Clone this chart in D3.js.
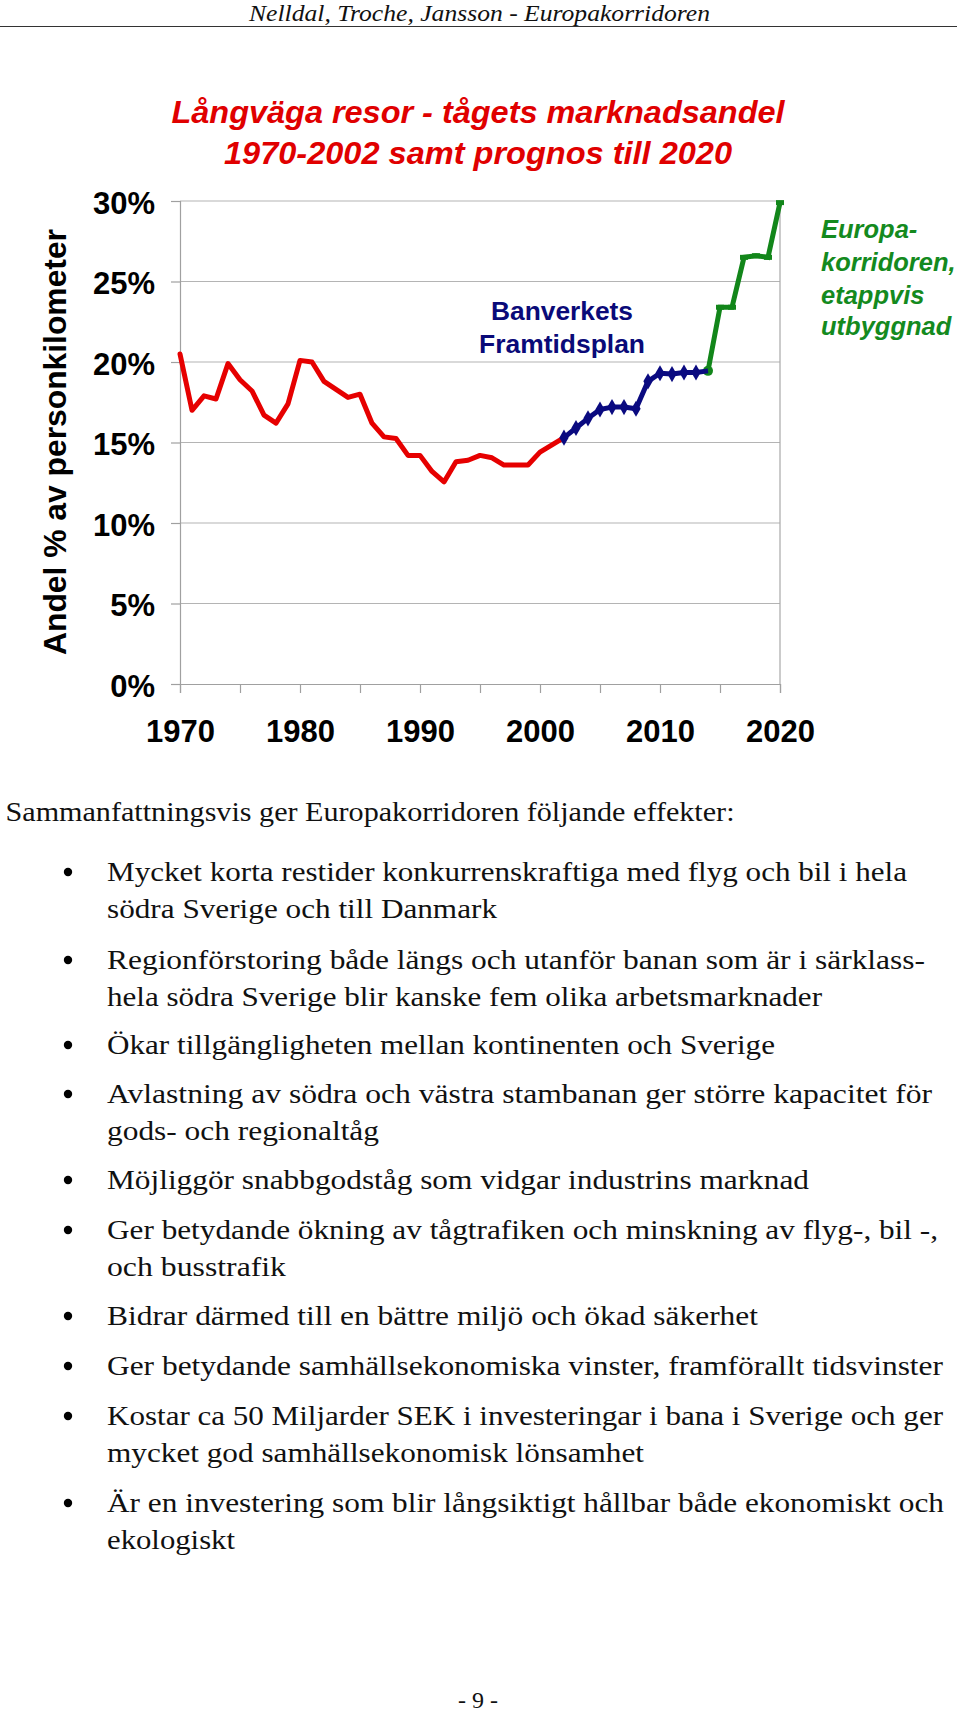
<!DOCTYPE html>
<html>
<head>
<meta charset="utf-8">
<script src="https://cdn.jsdelivr.net/npm/d3@7"></script>
<style>
  html, body { margin: 0; padding: 0; background: #fff; }
  svg { display: block; }
</style>
</head>
<body>
<div id="chart"></div>
<script>
// ---------------- DATA ----------------
const histYears = [1970,1971,1972,1973,1974,1975,1976,1977,1978,1979,1980,1981,1982,1983,1984,1985,1986,1987,1988,1989,1990,1991,1992,1993,1994,1995,1996,1997,1998,1999,2000,2001,2002];
const histShare = [20.5,17.0,17.9,17.7,19.9,18.9,18.2,16.7,16.2,17.4,20.1,20.0,18.8,18.3,17.8,18.0,16.2,15.35,15.25,14.2,14.2,13.2,12.55,13.8,13.9,14.2,14.05,13.6,13.6,13.6,14.4,14.85,15.3];
const planYears = [2002,2003,2004,2005,2006,2007,2008,2009,2010,2011,2012,2013,2014];
const planShare = [15.3,15.9,16.5,17.05,17.2,17.2,17.1,18.8,19.3,19.25,19.35,19.35,19.45];
const corrYears = [2014,2015,2016,2017,2018,2019,2020];
const corrShare = [19.45,23.4,23.4,26.5,26.6,26.5,29.9];
const yTicks = [0,5,10,15,20,25,30];
const xTicks = [1970,1975,1980,1985,1990,1995,2000,2005,2010,2015,2020];
const xLabelYears = [1970,1980,1990,2000,2010,2020];

const headerText = "Nelldal, Troche, Jansson - Europakorridoren";
const titleLines = ["Långväga resor - tågets marknadsandel", "1970-2002 samt prognos till 2020"];
const yAxisTitle = "Andel % av personkilometer";
const planLabel = ["Banverkets", "Framtidsplan"];
const corrLabel = ["Europa-", "korridoren,", "etappvis", "utbyggnad"];
const introText = "Sammanfattningsvis ger Europakorridoren följande effekter:";
const bulletItems = [
  ["Mycket korta restider konkurrenskraftiga med flyg och bil i hela", "södra Sverige och till Danmark"],
  ["Regionförstoring både längs och utanför banan som är i särklass-", "hela södra Sverige blir kanske fem olika arbetsmarknader"],
  ["Ökar tillgängligheten mellan kontinenten och Sverige"],
  ["Avlastning av södra och västra stambanan ger större kapacitet för", "gods- och regionaltåg"],
  ["Möjliggör snabbgodståg som vidgar industrins marknad"],
  ["Ger betydande ökning av tågtrafiken och minskning av flyg-, bil -,", "och busstrafik"],
  ["Bidrar därmed till en bättre miljö och ökad säkerhet"],
  ["Ger betydande samhällsekonomiska vinster, framförallt tidsvinster"],
  ["Kostar ca 50 Miljarder SEK i investeringar i bana i Sverige och ger", "mycket god samhällsekonomisk lönsamhet"],
  ["Är en investering som blir långsiktigt hållbar både ekonomiskt och", "ekologiskt"]
];
const pageNumber = "- 9 -";

// ---------------- LAYOUT ----------------
const W = 960, H = 1713;
const plot = { left: 180, right: 780, top: 201, bottom: 684 };
const bulletBaselines = [881, 969, 1054, 1103, 1189, 1239, 1325, 1375, 1425, 1512];
const bulletLineGap = 36.5;
const bodyLineWidths = [
  [800, 390], [818, 715], [668], [825, 272], [702], [831, 179], [651], [836], [836, 537], [837, 128]
];
const SANS = "'Liberation Sans', Arial, sans-serif";
const SERIF = "'Liberation Serif', 'Times New Roman', serif";

const svg = d3.select("#chart").append("svg")
  .attr("width", W).attr("height", H)
  .attr("viewBox", `0 0 ${W} ${H}`);
svg.append("rect").attr("width", W).attr("height", H).attr("fill", "#fff");

// fit text to a width
function fit(sel, width) {
  sel.attr("textLength", width).attr("lengthAdjust", "spacingAndGlyphs");
  return sel;
}

// header
fit(svg.append("text")
  .attr("x", 479.5).attr("y", 21)
  .attr("text-anchor", "middle")
  .attr("font-family", SERIF).attr("font-style", "italic")
  .attr("font-size", 23).attr("fill", "#111")
  .text(headerText), 461);
svg.append("line").attr("x1", 0).attr("x2", 957).attr("y1", 26.5).attr("y2", 26.5)
  .attr("stroke", "#333").attr("stroke-width", 1.2);

// title
const titleBase = [123, 164], titleW = [613, 508];
titleLines.forEach((t, i) => {
  fit(svg.append("text")
    .attr("x", 478).attr("y", titleBase[i])
    .attr("text-anchor", "middle")
    .attr("font-family", SANS).attr("font-weight", "bold").attr("font-style", "italic")
    .attr("font-size", 32).attr("fill", "#e00000")
    .text(t), titleW[i]);
});

// scales
const x = d3.scaleLinear().domain([1970, 2020]).range([plot.left, plot.right]);
const y = d3.scaleLinear().domain([0, 30]).range([plot.bottom, plot.top]);

const g = svg.append("g");

// gridlines
g.append("g").selectAll("line").data(yTicks.filter(d => d > 0)).join("line")
  .attr("x1", plot.left).attr("x2", plot.right)
  .attr("y1", d => y(d)).attr("y2", d => y(d))
  .attr("stroke", "#b4b4b4").attr("stroke-width", 1.2);
// right border
g.append("line").attr("x1", plot.right).attr("x2", plot.right)
  .attr("y1", plot.top).attr("y2", plot.bottom)
  .attr("stroke", "#a8a8a8").attr("stroke-width", 1.2);

// y axis
const yAxis = d3.axisLeft(y).tickValues(yTicks).tickFormat(d => d + "%")
  .tickSize(9).tickPadding(16);
const yg = g.append("g").attr("transform", `translate(${plot.left},0)`).call(yAxis);
yg.select(".domain").attr("stroke", "#a0a0a0").attr("stroke-width", 1.2);
yg.selectAll(".tick line").attr("stroke", "#a0a0a0").attr("stroke-width", 1.2);
yg.selectAll(".tick text")
  .attr("font-family", SANS).attr("font-weight", "bold").attr("font-size", 31)
  .attr("fill", "#000").attr("dy", "0.4em");

// x axis
const xAxis = d3.axisBottom(x).tickValues(xTicks)
  .tickFormat(d => xLabelYears.includes(d) ? String(d) : "")
  .tickSize(9).tickPadding(27);
const xg = g.append("g").attr("transform", `translate(0,${plot.bottom})`).call(xAxis);
xg.select(".domain").attr("stroke", "#a0a0a0").attr("stroke-width", 1.2);
xg.selectAll(".tick line").attr("stroke", "#a0a0a0").attr("stroke-width", 1.2);
xg.selectAll(".tick text")
  .attr("font-family", SANS).attr("font-weight", "bold").attr("font-size", 31)
  .attr("fill", "#000");

// y axis title
fit(svg.append("text")
  .attr("transform", "translate(66,442) rotate(-90)")
  .attr("text-anchor", "middle")
  .attr("font-family", SANS).attr("font-weight", "bold").attr("font-size", 31)
  .attr("fill", "#000")
  .text(yAxisTitle), 426);

// lines
const lineGen = d3.line().x(d => x(d[0])).y(d => y(d[1]));
const histData = histYears.map((yr, i) => [yr, histShare[i]]);
const planData = planYears.map((yr, i) => [yr, planShare[i]]);
const corrData = corrYears.map((yr, i) => [yr, corrShare[i]]);

g.append("path").datum(histData).attr("d", lineGen)
  .attr("fill", "none").attr("stroke", "#e60000").attr("stroke-width", 5)
  .attr("stroke-linejoin", "round").attr("stroke-linecap", "round");

g.append("path").datum(corrData).attr("d", lineGen)
  .attr("fill", "none").attr("stroke", "#12861a").attr("stroke-width", 5)
  .attr("stroke-linejoin", "miter");
g.append("g").selectAll("rect").data(corrData.slice(1)).join("rect")
  .attr("x", d => x(d[0]) - 4).attr("y", d => y(d[1]) - 2.5)
  .attr("width", 8).attr("height", 5).attr("fill", "#12861a");
g.append("circle").attr("cx", x(corrData[0][0])).attr("cy", y(corrData[0][1]))
  .attr("r", 5).attr("fill", "#12861a");

g.append("path").datum(planData).attr("d", lineGen)
  .attr("fill", "none").attr("stroke", "#0a0a80").attr("stroke-width", 5)
  .attr("stroke-linejoin", "round");
const diamond = d3.symbol().type(d3.symbolDiamond).size(75);
g.append("g").selectAll("path").data(planData.slice(0, -1)).join("path")
  .attr("d", diamond)
  .attr("transform", d => `translate(${x(d[0])},${y(d[1])})`)
  .attr("fill", "#0a0a80");

// annotations
const planBase = [320, 353], planW = [142, 166];
planLabel.forEach((t, i) => {
  fit(svg.append("text")
    .attr("x", 562).attr("y", planBase[i])
    .attr("text-anchor", "middle")
    .attr("font-family", SANS).attr("font-weight", "bold").attr("font-size", 26)
    .attr("fill", "#0a0a78")
    .text(t), planW[i]);
});
const corrBase = [238, 271, 304, 335];
corrLabel.forEach((t, i) => {
  svg.append("text")
    .attr("x", 821).attr("y", corrBase[i])
    .attr("font-family", SANS).attr("font-weight", "bold").attr("font-style", "italic")
    .attr("font-size", 25.5)
    .attr("fill", "#148a1e")
    .text(t);
});

// body text
fit(svg.append("text")
  .attr("x", 5.5).attr("y", 821)
  .attr("font-family", SERIF).attr("font-size", 28).attr("fill", "#111")
  .text(introText), 729);

const body = svg.append("g");
bulletItems.forEach((lines, i) => {
  const base = bulletBaselines[i];
  body.append("circle").attr("cx", 68).attr("cy", base - 9).attr("r", 4.2).attr("fill", "#000");
  lines.forEach((t, j) => {
    fit(body.append("text")
      .attr("x", 107).attr("y", base + j * bulletLineGap)
      .attr("font-family", SERIF).attr("font-size", 28).attr("fill", "#111")
      .text(t), bodyLineWidths[i][j]);
  });
});

svg.append("text")
  .attr("x", 478).attr("y", 1708)
  .attr("text-anchor", "middle")
  .attr("font-family", SERIF).attr("font-size", 24).attr("fill", "#111")
  .text(pageNumber);
</script>
</body>
</html>
